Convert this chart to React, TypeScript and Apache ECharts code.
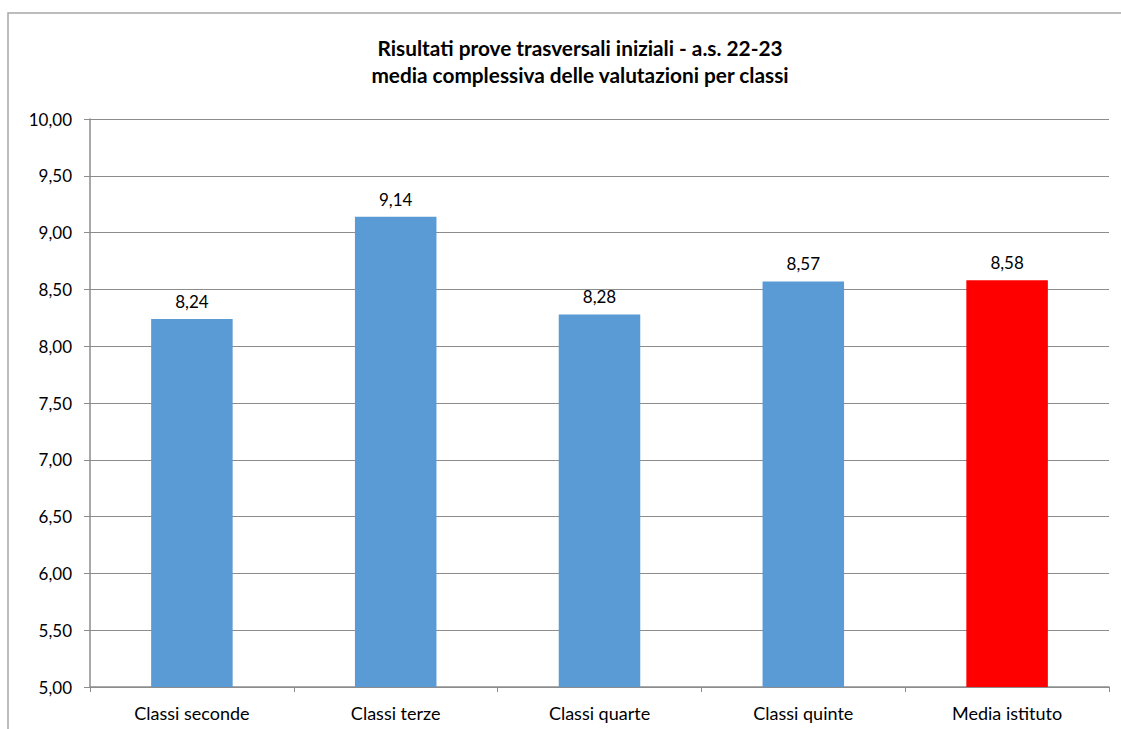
import React, { useEffect, useRef } from "react";
import * as echarts from "echarts";

const categories = ["Classi seconde", "Classi terze", "Classi quarte", "Classi quinte", "Media istituto"];
const values = [8.24, 9.14, 8.28, 8.57, 8.58];
const barColors = ["#5B9BD5", "#5B9BD5", "#5B9BD5", "#5B9BD5", "#FF0000"];
const titleLines = [
  "Risultati prove trasversali iniziali - a.s. 22-23",
  "media complessiva delle valutazioni per classi",
];

const fmt = (v: number) => v.toFixed(2).replace(".", ",");

export default function App() {
  const ref = useRef<HTMLDivElement>(null);
  useEffect(() => {
    if (!ref.current) return;
    const chart = echarts.init(ref.current, null, { renderer: "svg" });
    const font = "Lato, 'Open Sans', sans-serif";
    chart.setOption({
      animation: false,
      backgroundColor: "#ffffff",
      textStyle: { fontFamily: font },
      graphic: [
        {
          type: "rect",
          shape: { x: 8, y: 13, width: 1200, height: 800 },
          style: { fill: "none", stroke: "#A6A6A6", lineWidth: 1.5 },
          z: -1,
        },
        {
          type: "text",
          x: 580,
          y: 34,
          style: {
            text: titleLines.join("\n"),
            font: `bold 20.8px ${font}`,
            fill: "#000",
            textAlign: "center",
            textVerticalAlign: "top",
            lineHeight: 27,
          },
        },
      ],
      grid: { left: 90, right: 12, top: 119, bottom: 42, containLabel: false },
      xAxis: {
        type: "category",
        data: categories,
        boundaryGap: true,
        axisLine: { lineStyle: { color: "#8C8C8C", width: 1.5 } },
        axisTick: { show: true, length: 5, lineStyle: { color: "#8C8C8C" } },
        axisLabel: { color: "#000", fontSize: 18, margin: 17, fontFamily: font },
      },
      yAxis: {
        type: "value",
        min: 5,
        max: 10,
        interval: 0.5,
        axisLine: { show: true, lineStyle: { color: "#8C8C8C", width: 1.5 } },
        axisTick: { show: true, length: 6, lineStyle: { color: "#8C8C8C" } },
        splitLine: { lineStyle: { color: "#8C8C8C", width: 1 } },
        axisLabel: { color: "#000", fontSize: 17, margin: 18, fontFamily: font, formatter: (v: number) => fmt(v) },
      },
      series: [
        {
          type: "bar",
          barWidth: "40%",
          data: values.map((v, i) => ({ value: v, itemStyle: { color: barColors[i] } })),
          label: {
            show: true,
            position: "top",
            distance: 9,
            color: "#000",
            fontSize: 17,
            fontFamily: font,
            formatter: (p: any) => fmt(p.value),
          },
        },
      ],
    });
    return () => chart.dispose();
  }, []);
  return (
    <div
      ref={ref}
      style={{ position: "absolute", left: 0, top: 0, width: 1121, height: 729 }}
    />
  );
}
